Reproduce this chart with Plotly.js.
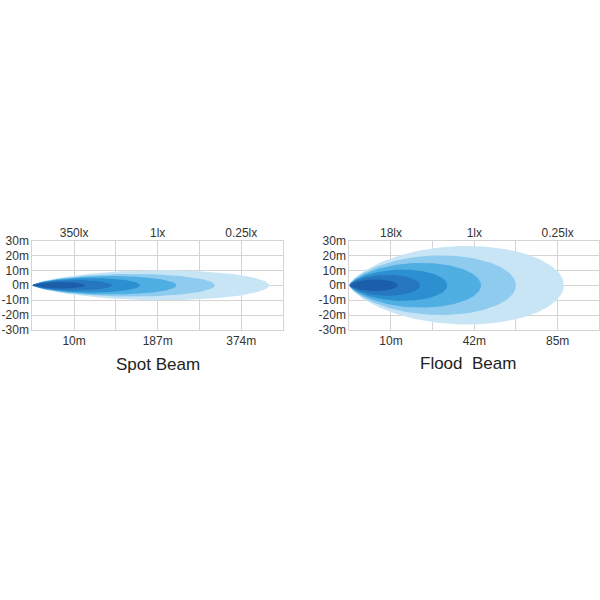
<!DOCTYPE html>
<html>
<head>
<meta charset="utf-8">
<script src="https://cdn.plot.ly/plotly-3.0.1.min.js"></script>
<style>html,body{margin:0;padding:0;background:#fff;}#chart{width:600px;height:600px;}</style>
</head>
<body>
<div id="chart"></div>
<script>
// ---- data ----
// beam zones from brightest (innermost) to weakest (outermost)
// reach in grid columns, half-width in metres
const spotReach = [1.26, 1.9, 2.58, 3.45, 4.37, 5.67];
const spotHalfWidth = [2.2, 3.5, 4.8, 6.2, 7.6, 10.0];
const floodReach = [1.16, 1.7, 2.35, 3.16, 4.0, 5.15];
const floodHalfWidth = [3.9, 7.0, 10.5, 15.0, 20.0, 26.3];
const zoneColors = ['#1b5ea9', '#2677be', '#2b8fd0', '#4faee2', '#8ecbee', '#c8e5f6'];

const spotLuxTicks = ['350lx', '1lx', '0.25lx'];
const spotDistTicks = ['10m', '187m', '374m'];
const floodLuxTicks = ['18lx', '1lx', '0.25lx'];
const floodDistTicks = ['10m', '42m', '85m'];
const yTickVals = [-30, -20, -10, 0, 10, 20, 30];
const yTickText = ['-30m', '-20m', '-10m', '0m', '10m', '20m', '30m'];
const columnTicks = [0, 1, 2, 3, 4, 5, 6];
const labelledColumns = [1, 3, 5];

// ---- outline builder for a teardrop-shaped beam zone ----
function beamOutline(L, W) {
  const p = 0.55, k = 0.7, n = 90;
  const top = [];
  for (let i = 0; i <= n; i++) {
    const x = L * (1 - Math.cos(Math.PI * i / n)) / 2;
    const c = p * L;
    let h;
    if (x <= c) {
      const u = (c - x) / c;
      h = W * Math.pow(Math.max(0, 1 - u * u), k);
    } else {
      const u = (x - c) / (L - c);
      h = W * Math.sqrt(Math.max(0, 1 - u * u));
    }
    top.push([x, h]);
  }
  const xs = top.map(d => d[0]).concat(top.slice().reverse().map(d => d[0]));
  const ys = top.map(d => d[1]).concat(top.slice().reverse().map(d => -d[1]));
  return {xs, ys};
}

const traces = [];
function addBeam(reach, widths, xa, ya) {
  for (let i = reach.length - 1; i >= 0; i--) {
    const o = beamOutline(reach[i], widths[i]);
    traces.push({
      type: 'scatter', mode: 'lines', x: o.xs, y: o.ys,
      xaxis: xa, yaxis: ya, fill: 'toself', fillcolor: zoneColors[i],
      line: {width: 0, color: zoneColors[i]}, hoverinfo: 'skip', showlegend: false
    });
  }
}
addBeam(spotReach, spotHalfWidth, 'x', 'y');
addBeam(floodReach, floodHalfWidth, 'x3', 'y2');
// anchor traces so the top axes are drawn
traces.push({type:'scatter', mode:'markers', x:labelledColumns, y:[0,0,0], xaxis:'x2', yaxis:'y', marker:{opacity:0}, hoverinfo:'skip', showlegend:false});
traces.push({type:'scatter', mode:'markers', x:labelledColumns, y:[0,0,0], xaxis:'x4', yaxis:'y2', marker:{opacity:0}, hoverinfo:'skip', showlegend:false});

const font = {family: 'Liberation Sans, Arial, sans-serif', size: 12, color: '#333'};
const grid = '#d4d4d4';
const leftDom = [32.3 / 600, 283 / 600];
const rightDom = [349.3 / 600, 599.3 / 600];
const yDom = [1 - 330 / 600, 1 - 240.5 / 600];

function bottomAxis(dom, labels, anchor) {
  return {
    domain: dom, range: [0, 6], anchor: anchor, fixedrange: true,
    tickvals: columnTicks,
    ticktext: columnTicks.map(v => { const j = labelledColumns.indexOf(v); return j >= 0 ? labels[j] : ''; }),
    showgrid: true, gridcolor: grid, gridwidth: 1, zeroline: false,
    showline: true, linecolor: grid, mirror: true, ticks: '', tickfont: font
  };
}
function topAxis(over, labels, anchor) {
  return {
    overlaying: over, side: 'top', range: [0, 6], anchor: anchor, fixedrange: true,
    tickvals: labelledColumns, ticktext: labels, showgrid: false, zeroline: false,
    showline: false, ticks: '', tickfont: font
  };
}
function yAxis(anchor) {
  return {
    domain: yDom, range: [-30, 30], anchor: anchor, fixedrange: true,
    tickvals: yTickVals, ticktext: yTickText, showgrid: true, gridcolor: grid,
    zeroline: false, showline: true, linecolor: grid, mirror: true, ticks: '', tickfont: font
  };
}

const layout = {
  width: 600, height: 600,
  margin: {l: 0, r: 0, t: 0, b: 0},
  paper_bgcolor: '#fff', plot_bgcolor: '#fff',
  showlegend: false,
  xaxis: bottomAxis(leftDom, spotDistTicks, 'y'),
  xaxis2: topAxis('x', spotLuxTicks, 'y'),
  xaxis3: bottomAxis(rightDom, floodDistTicks, 'y2'),
  xaxis4: topAxis('x3', floodLuxTicks, 'y2'),
  yaxis: yAxis('x'),
  yaxis2: yAxis('x3'),
  annotations: [
    {text: 'Spot Beam', xref: 'paper', yref: 'paper', x: 158 / 600, y: 1 - 365 / 600,
     showarrow: false, xanchor: 'center', yanchor: 'middle',
     font: {family: 'Liberation Sans, Arial, sans-serif', size: 17, color: '#222'}},
    {text: 'Flood\u00a0 Beam', xref: 'paper', yref: 'paper', x: 468 / 600, y: 1 - 363 / 600,
     showarrow: false, xanchor: 'center', yanchor: 'middle',
     font: {family: 'Liberation Sans, Arial, sans-serif', size: 17, color: '#222'}}
  ]
};

Plotly.newPlot('chart', traces, layout, {staticPlot: true, displayModeBar: false});
</script>
</body>
</html>
